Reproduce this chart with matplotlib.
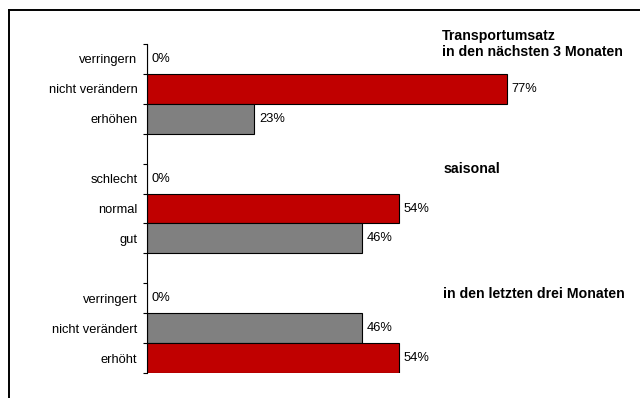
import numpy as np
import matplotlib.pyplot as plt
from matplotlib.lines import Line2D

plt.rcParams['font.family'] = ['Liberation Sans', 'DejaVu Sans']

# Data ~~~~~~~~~~~~~~~~~~~~~~~~~~~~~~~~~~~~~~~~~~~~~~~~~~~~~~~~~~~~~~~~~~~~~~~~~~~
labels = ['verringern', 'nicht verändern', 'erhöhen', '',
          'schlecht', 'normal', 'gut', '',
          'verringert', 'nicht verändert', 'erhöht']
values = [0, 77, 23, None, 0, 54, 46, None, 0, 46, 54]
bar_colors = ['#C00000', '#C00000', '#808080', None,
              '#C00000', '#C00000', '#808080', None,
              '#808080', '#808080', '#C00000']
titles = ['Transportumsatz\nin den nächsten 3 Monaten', 'saisonal', 'in den letzten drei Monaten']

# Plot ~~~~~~~~~~~~~~~~~~~~~~~~~~~~~~~~~~~~~~~~~~~~~~~~~~~~~~~~~~~~~~~~~~~~~~~~~~~
W, H = 640, 398
fig = plt.figure(figsize=(W/100, H/100), dpi=100)
ax = fig.add_axes([147/W, 1-373/H, 467/W, (373-44)/H])

y = np.arange(len(labels))
for i, v in enumerate(values):
    if v is None:
        continue
    ax.barh(y[i], v, height=1.0, color=bar_colors[i], edgecolor='black', linewidth=0.8)
    ax.text(v + 1.0, y[i], '%d%%' % v, va='center', ha='left', fontsize=9.3)

ax.set_xlim(0, 100)
ax.set_ylim(len(labels)-0.5, -0.5)
for s in ['top', 'right', 'bottom']:
    ax.spines[s].set_visible(False)
ax.spines['left'].set_linewidth(0.8)
ax.set_xticks([])
ax.set_yticks(y)
ax.set_yticklabels(labels, fontsize=9.3)
ax.tick_params(axis='y', which='major', length=0, pad=7)
ax.set_yticks(np.arange(len(labels)+1) - 0.5, minor=True)
ax.tick_params(axis='y', which='minor', length=3, width=0.8)

# group titles
fig.text(442/W, 1-36/H, titles[0].split('\n')[0], fontsize=10.2, fontweight='bold', va='center', ha='left')
fig.text(442/W, 1-52/H, titles[0].split('\n')[1], fontsize=10.2, fontweight='bold', va='center', ha='left')
fig.text(444/W, 1-169/H, titles[1], fontsize=10.2, fontweight='bold', va='center', ha='left')
fig.text(443/W, 1-294/H, titles[2], fontsize=10.2, fontweight='bold', va='center', ha='left')

# frame (cut off at right and bottom)
fig.add_artist(Line2D([9/W, 1], [1-10/H, 1-10/H], color='black', lw=1.4))
fig.add_artist(Line2D([9/W, 9/W], [0, 1-10/H], color='black', lw=1.4))

plt.savefig('out.png', dpi=100)
